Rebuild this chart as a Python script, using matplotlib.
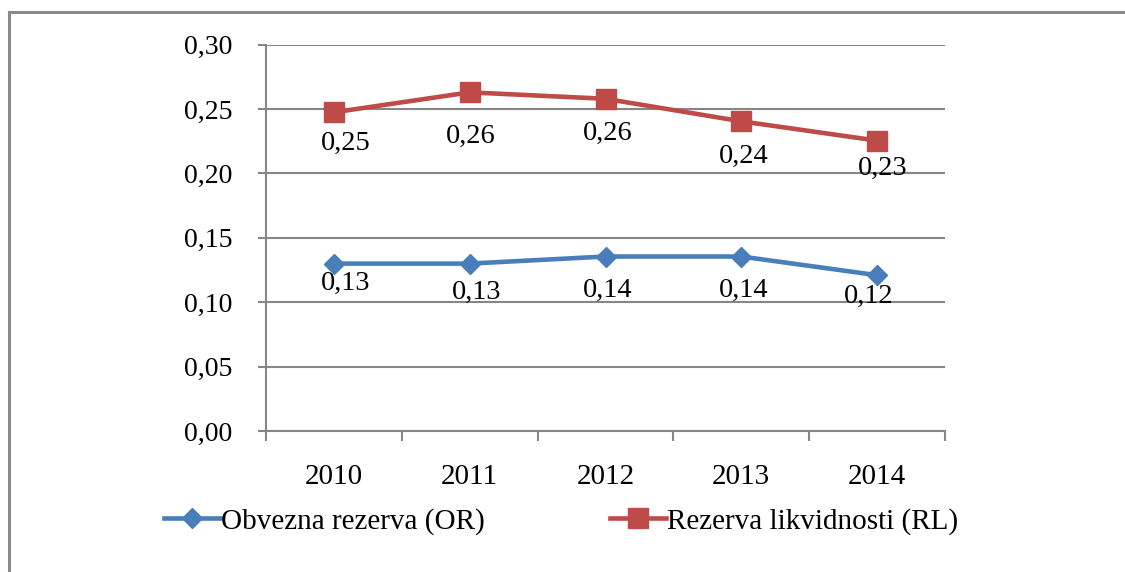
import matplotlib.pyplot as plt
from matplotlib.lines import Line2D
from matplotlib.ticker import FuncFormatter, MultipleLocator

plt.rcParams['font.family'] = ['Liberation Serif', 'DejaVu Serif']

# data
years = ['2010', '2011', '2012', '2013', '2014']
obvezna = [0.130, 0.130, 0.1355, 0.1355, 0.121]
likvidnost = [0.2475, 0.263, 0.258, 0.2405, 0.2255]
obvezna_lbl = ['0,13', '0,13', '0,14', '0,14', '0,12']
likvidnost_lbl = ['0,25', '0,26', '0,26', '0,24', '0,23']

# label offsets in pixels (dx, dy)
obvezna_off = [(12, -20), (7, -29), (2, -34), (2, -34), (-8, -21)]
likvidnost_off = [(12, -31), (1, -44), (2, -35), (2, -35), (6, -28)]

blue = '#4A7EBB'
red = '#BE4B48'
grid = '#868686'

fig = plt.figure(figsize=(11.25, 5.72), dpi=100)
ax = fig.add_axes([266/1125, 1-431/572, (945-266)/1125, (431-44.7)/572])

x = list(range(len(years)))
ax.plot(x, obvezna, color=blue, lw=3.3, marker='D', ms=10.5, zorder=3)
ax.plot(x, likvidnost, color=red, lw=3.3, marker='s', ms=14, zorder=3)

for xi, v, t, o in zip(x, obvezna, obvezna_lbl, obvezna_off):
    ax.annotate(t, (xi, v), xytext=o, textcoords='offset pixels',
                ha='center', va='center', fontsize=20.5)
for xi, v, t, o in zip(x, likvidnost, likvidnost_lbl, likvidnost_off):
    ax.annotate(t, (xi, v), xytext=o, textcoords='offset pixels',
                ha='center', va='center', fontsize=20.5)

ax.set_xlim(-0.5, 4.5)
ax.set_ylim(0, 0.30)
ax.yaxis.set_major_locator(MultipleLocator(0.05))
ax.yaxis.set_major_formatter(FuncFormatter(lambda v, p: f'{v:.2f}'.replace('.', ',')))
ax.grid(axis='y', color=grid, lw=1.5)
ax.set_axisbelow(True)

ax.set_xticks(x)
ax.set_xticklabels(years)
ax.set_xticks([i - 0.5 for i in range(6)], minor=True)
ax.tick_params(axis='x', which='major', length=0, pad=24, labelsize=21)
ax.tick_params(axis='x', which='minor', length=7, width=1.5, color=grid)
ax.tick_params(axis='y', length=6, width=1.5, color=grid, pad=18, labelsize=20)

for s in ['top', 'right']:
    ax.spines[s].set_visible(False)
for s in ['left', 'bottom']:
    ax.spines[s].set_color(grid)
    ax.spines[s].set_linewidth(1.5)

handles = [Line2D([], [], color=blue, lw=3.3, marker='D', ms=10.5),
           Line2D([], [], color=red, lw=3.3, marker='s', ms=14)]
fig.legend(handles, ['Obvezna rezerva (OR)', 'Rezerva likvidnosti (RL)'],
           loc='center', bbox_to_anchor=(0.499, 0.089), ncol=2, frameon=False,
           fontsize=21, handlelength=1.9, handletextpad=0.05, columnspacing=4.3)

# outer frame (left and top edges visible)
fig.add_artist(Line2D([9/1125, 9/1125], [0, 1-12/572], color='#8a8a8a', lw=2.2))
fig.add_artist(Line2D([9/1125, 1], [1-12/572, 1-12/572], color='#8a8a8a', lw=2.2))

fig.savefig('out.png', dpi=100)
